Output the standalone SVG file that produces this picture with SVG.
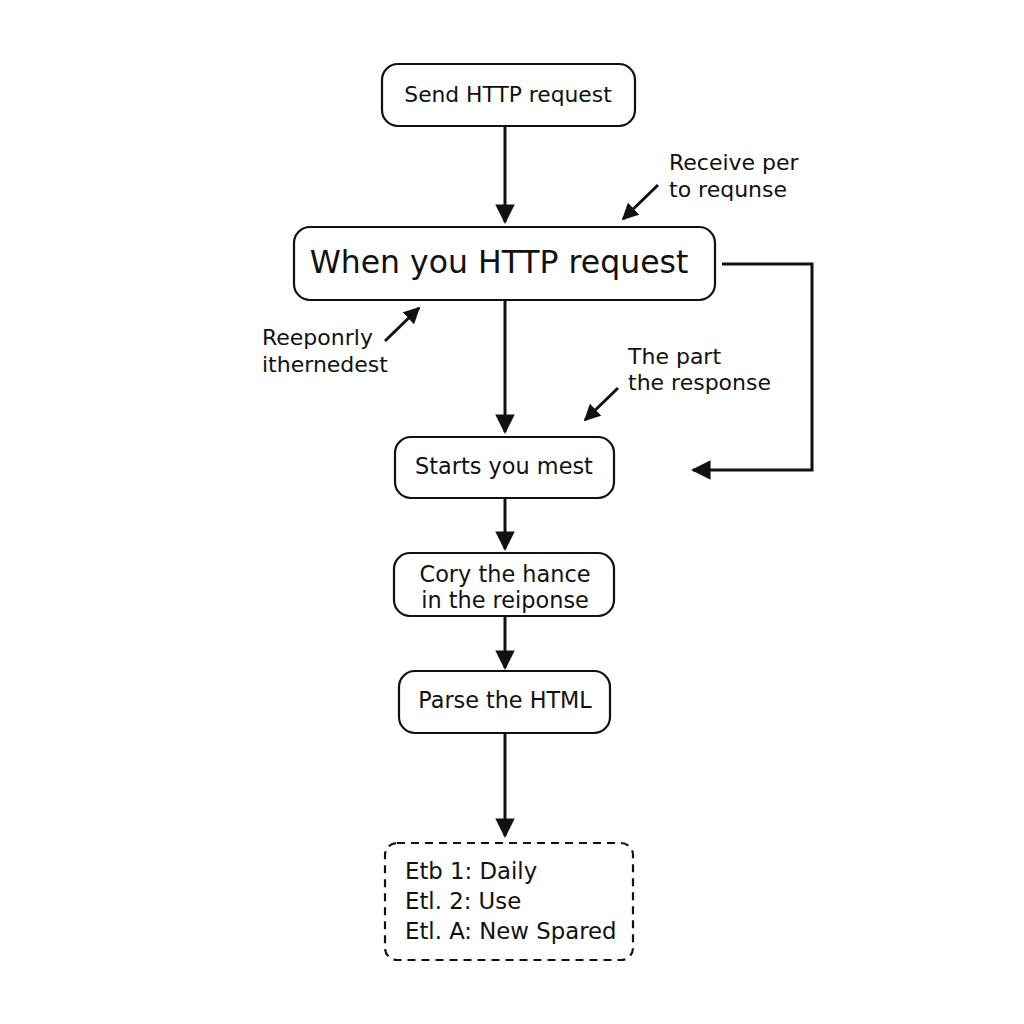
<svg xmlns="http://www.w3.org/2000/svg" width="1024" height="1024" viewBox="0 0 1024 1024">
<defs>
<style>
.box{fill:#fff;stroke:#111;stroke-width:2.2}
.dash{fill:#fff;stroke:#111;stroke-width:2.2;stroke-dasharray:8 6}
.t{font-family:"DejaVu Sans","Verdana",sans-serif;fill:#111}
.c{fill:none;stroke:#111;stroke-width:3}
.n{fill:none;stroke:#111;stroke-width:3}
</style>
<marker id="ah" viewBox="0 0 10 10" refX="9" refY="5" markerWidth="6.5" markerHeight="6.5" markerUnits="strokeWidth" orient="auto">
<path d="M0,0 L10,5 L0,10 z" fill="#111"/>
</marker>
<marker id="as" viewBox="0 0 10 10" refX="9" refY="5" markerWidth="5.5" markerHeight="5.5" markerUnits="strokeWidth" orient="auto">
<path d="M0,0 L10,5 L0,10 z" fill="#111"/>
</marker>
</defs>
<rect width="1024" height="1024" fill="#fff"/>
<g id="connectors">
<line class="c" x1="505" y1="126" x2="505" y2="222" marker-end="url(#ah)"/>
<line class="c" x1="505" y1="300" x2="505" y2="432" marker-end="url(#ah)"/>
<line class="c" x1="505" y1="498" x2="505" y2="549" marker-end="url(#ah)"/>
<line class="c" x1="505" y1="616" x2="505" y2="668" marker-end="url(#ah)"/>
<line class="c" x1="505" y1="733" x2="505" y2="836" marker-end="url(#ah)"/>
<polyline class="c" points="722,264 812,264 812,470 693,470" marker-end="url(#ah)"/>
<line class="n" x1="658" y1="185" x2="623" y2="219" marker-end="url(#as)"/>
<line class="n" x1="385" y1="341" x2="419" y2="308" marker-end="url(#as)"/>
<line class="n" x1="618" y1="388" x2="585" y2="420" marker-end="url(#as)"/>
</g>
<g id="n1">
<rect class="box" x="382" y="64" width="253" height="62" rx="16"/>
<text class="t" x="508" y="102" font-size="21.8" text-anchor="middle">Send HTTP request</text>
</g>
<g id="n2">
<rect class="box" x="294" y="227" width="421" height="73" rx="16"/>
<text class="t" x="499" y="273" font-size="31.5" text-anchor="middle">When you HTTP request</text>
</g>
<g id="label1">
<text class="t" x="669" y="170" font-size="22">Receive per</text>
<text class="t" x="669" y="197" font-size="22">to requnse</text>
</g>
<g id="label2">
<text class="t" x="262" y="345" font-size="22">Reeponrly</text>
<text class="t" x="262" y="372" font-size="22">ithernedest</text>
</g>
<g id="label3">
<text class="t" x="628" y="364" font-size="22">The part</text>
<text class="t" x="628" y="390" font-size="22">the response</text>
</g>
<g id="n3">
<rect class="box" x="395" y="437" width="219" height="61" rx="16"/>
<text class="t" x="504" y="474" font-size="22.4" text-anchor="middle">Starts you mest</text>
</g>
<g id="n4">
<rect class="box" x="394" y="553" width="220" height="63" rx="16"/>
<text class="t" x="505" y="582" font-size="22.4" text-anchor="middle">Cory the hance</text>
<text class="t" x="505" y="608" font-size="22.4" text-anchor="middle">in the reiponse</text>
</g>
<g id="n5">
<rect class="box" x="399" y="671" width="211" height="62" rx="16"/>
<text class="t" x="505" y="708" font-size="22.3" text-anchor="middle">Parse the HTML</text>
</g>
<g id="n6">
<rect class="dash" x="385" y="843" width="248" height="117" rx="12"/>
<text class="t" x="405" y="879" font-size="22.8">Etb 1: Daily</text>
<text class="t" x="405" y="909" font-size="22.8">Etl. 2: Use</text>
<text class="t" x="405" y="939" font-size="22.8">Etl. A: New Spared</text>
</g>
</svg>
